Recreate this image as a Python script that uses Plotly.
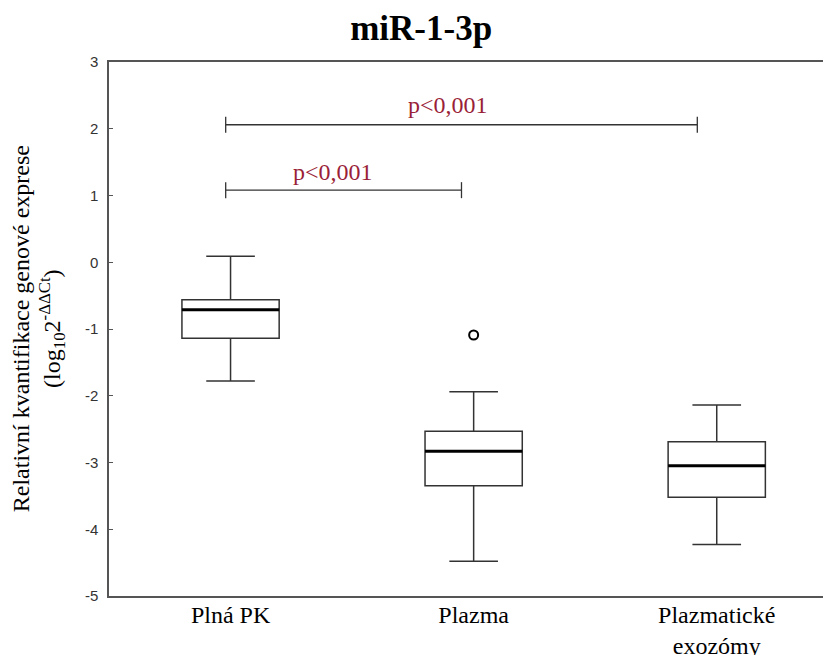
import plotly.graph_objects as go

# ---- data ----
categories = ["Plná PK", "Plazma", "Plazmatické<br>exozómy"]
q1_vals = [-1.14, -3.35, -3.52]
median_vals = [-0.71, -2.83, -3.05]
q3_vals = [-0.56, -2.53, -2.69]
lower_whisker = [-1.78, -4.48, -4.23]
upper_whisker = [0.09, -1.94, -2.14]
outlier_group = [1]
outlier_vals = [-1.09]

bracket_x0 = [-0.02, -0.02]
bracket_x1 = [0.95, 1.92]
bracket_y = [1.08, 2.06]
bracket_labels = ["p<0,001", "p<0,001"]
label_x = [0.42, 0.895]
label_y = [1.35, 2.36]

ytick_vals = [-5, -4, -3, -2, -1, 0, 1, 2, 3]
ytick_text = ["-5", "-4", "-3", "-2", "-1", "0", "1", "2", "3"]
y_title = "Relativní kvantifikace genové exprese<br>(log<sub>10</sub>2<sup>-ΔΔCt</sup>)"

# ---- figure ----
pos = list(range(len(categories)))
box_w = 0.4
fig = go.Figure()

fig.add_trace(go.Box(
    x=pos, q1=q1_vals, median=median_vals, q3=q3_vals,
    lowerfence=lower_whisker, upperfence=upper_whisker,
    width=box_w, whiskerwidth=0.5,
    fillcolor="white", line=dict(color="#333333", width=1.5),
    boxpoints=False, showlegend=False, hoverinfo="skip",
))

# thicker median lines
for i, m in zip(pos, median_vals):
    fig.add_trace(go.Scatter(
        x=[i - box_w / 2, i + box_w / 2], y=[m, m], mode="lines",
        line=dict(color="black", width=3), showlegend=False, hoverinfo="skip"))

# outliers
fig.add_trace(go.Scatter(
    x=outlier_group, y=outlier_vals, mode="markers",
    marker=dict(symbol="circle-open", size=9, color="black", line=dict(width=2)),
    showlegend=False, hoverinfo="skip"))

# significance brackets
tick_h = 0.12
for x0, x1, y, lab, lx, ly in zip(bracket_x0, bracket_x1, bracket_y, bracket_labels, label_x, label_y):
    fig.add_trace(go.Scatter(
        x=[x0, x0, None, x0, x1, None, x1, x1],
        y=[y - tick_h, y + tick_h, None, y, y, None, y - tick_h, y + tick_h],
        mode="lines", line=dict(color="#333333", width=1.3),
        showlegend=False, hoverinfo="skip"))
    fig.add_annotation(x=lx, y=ly, text=lab, showarrow=False,
                       font=dict(family="Liberation Serif", size=24, color="#9A1F38"))

# y-axis title as rotated annotation
fig.add_annotation(xref="paper", yref="paper", x=-0.098, y=0.5, xanchor="center", yanchor="middle",
                   text=y_title, textangle=-90, showarrow=False,
                   font=dict(family="Liberation Serif", size=24, color="black"))

fig.update_layout(
    width=823, height=647,
    margin=dict(l=101, r=0, t=54, b=59),
    paper_bgcolor="white", plot_bgcolor="white",
    title=dict(text="<b>miR-1-3p</b>", x=0.502, xanchor="center", y=0.969, yanchor="middle",
               font=dict(family="Liberation Serif", size=35, color="black")),
    xaxis=dict(
        range=[-0.5, 2.47], tickmode="array", tickvals=pos, ticktext=categories,
        showline=True, linecolor="#555555", linewidth=1.5, mirror=True,
        showgrid=False, zeroline=False, ticks="", automargin=False,
        ticklabelstandoff=-4,
        tickfont=dict(family="Liberation Serif", size=24, color="black"),
    ),
    yaxis=dict(
        range=[-5, 3], tickmode="array", tickvals=ytick_vals, ticktext=ytick_text,
        showline=True, linecolor="#555555", linewidth=1.5,
        showgrid=False, zeroline=False,
        ticks="inside", ticklen=4, tickcolor="#555555", tickwidth=1,
        ticklabelstandoff=6, automargin=False,
        tickfont=dict(family="Liberation Sans", size=15, color="#333333"),
    ),
)

fig.write_html("out.html")
